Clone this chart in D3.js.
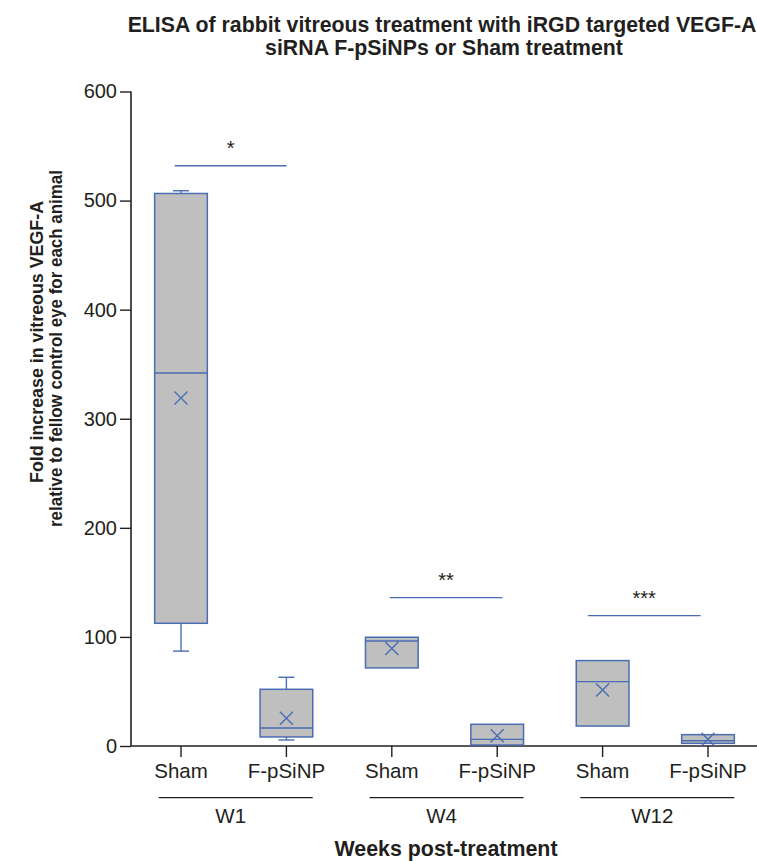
<!DOCTYPE html>
<html><head><meta charset="utf-8">
<script src="https://cdn.jsdelivr.net/npm/d3@7/dist/d3.min.js"></script>
<style>
html,body{margin:0;padding:0;background:#fff;}
svg text{font-family:"Liberation Sans",Arial,Helvetica,sans-serif;fill:#231f20;}
</style></head>
<body><svg id="chart" width="757" height="861"></svg>
<script>
// ---- data ----
const categories = ["Sham","F-pSiNP","Sham","F-pSiNP","Sham","F-pSiNP"];
const groups = ["W1","W4","W12"];
const whiskerMin = [87, 5.5, 71.6, 0.9, 18.3, 2.4];
const q1 =         [112.5, 8.3, 71.6, 0.9, 18.3, 2.4];
const median =     [342, 16.5, 96.3, 6.1, 59, 4.8];
const q3 =         [506.5, 52, 99.7, 19.9, 78.3, 10.4];
const whiskerMax = [509, 63, 99.7, 19.9, 78.3, 10.4];
const means =      [319, 25.4, 89.3, 9.5, 51.4, 6.1];
const yTicks = [0,100,200,300,400,500,600];
const sigLabels = ["*","**","***"];
const sigValues = [532, 136, 119.5];
const sigFrom = [-0.06, 1.98, 3.86];
const sigTo = [1.0, 3.05, 4.93];
const titleLines = ["ELISA of rabbit vitreous treatment with iRGD targeted VEGF-A","siRNA F-pSiNPs or Sham treatment"];
const yTitleLines = ["Fold increase in vitreous VEGF-A","relative to fellow control eye for each animal"];
const xTitle = "Weeks post-treatment";

// ---- layout ----
const svg = d3.select("#chart");
const blue = "#4a6db3", axisCol = "#231f20";
const y = d3.scaleLinear().domain([0,600]).range([746,91.5]);
const idx = d3.scaleLinear().domain([0,5]).range([181,708]);
const step = idx(1)-idx(0);
const boxW = step*0.5, capW = 16;

// title
svg.append("g").selectAll("text").data(titleLines).join("text")
  .attr("x",(d,i)=> i===0?442:444).attr("y",(d,i)=>32.3+i*22.7)
  .attr("text-anchor","middle").attr("font-size","21.3px").attr("font-weight","bold").text(d=>d);

// y axis
const yAxis = d3.axisLeft(y).tickValues(yTicks).tickSize(11).tickPadding(3);
const gy = svg.append("g").attr("transform","translate(131,0)").call(yAxis);
gy.select(".domain").attr("stroke",axisCol).attr("stroke-width",1.6).attr("d","M0,"+y(600)+"V"+y(0));
gy.selectAll(".tick line").attr("stroke",axisCol).attr("stroke-width",1.4);
gy.selectAll(".tick text").attr("font-size","20px").style("fill","#231f20");

// x axis
const gx = svg.append("g");
gx.append("line").attr("x1",131).attr("x2",757).attr("y1",y(0)).attr("y2",y(0)).attr("stroke",axisCol).attr("stroke-width",1.6);
gx.selectAll("line.tk").data(categories).join("line").attr("class","tk")
  .attr("x1",(d,i)=>idx(i)).attr("x2",(d,i)=>idx(i)).attr("y1",y(0)).attr("y2",y(0)+11)
  .attr("stroke",axisCol).attr("stroke-width",1.4);
gx.selectAll("text.cat").data(categories).join("text").attr("class","cat")
  .attr("x",(d,i)=>idx(i)).attr("y",778).attr("text-anchor","middle").attr("font-size","20.5px").text(d=>d);
// group lines & labels
gx.selectAll("line.grp").data(groups).join("line").attr("class","grp")
  .attr("x1",(d,i)=>idx(2*i+0.5)-77+2).attr("x2",(d,i)=>idx(2*i+0.5)+77+2)
  .attr("y1",797.7).attr("y2",797.7).attr("stroke",axisCol).attr("stroke-width",1.3);
gx.selectAll("text.grp").data(groups).join("text").attr("class","grp")
  .attr("x",(d,i)=>idx(2*i+0.5)-3).attr("y",822.7).attr("text-anchor","middle").attr("font-size","20.5px").text(d=>d);
svg.append("text").attr("x",446).attr("y",856).attr("text-anchor","middle")
  .attr("font-size","21.4px").attr("font-weight","bold").text(xTitle);

// y title
const yTitleLen = [282, 357], yTitleCenter = [342, 348.5];
svg.append("g").selectAll("text").data(yTitleLines).join("text")
  .attr("transform",(d,i)=>"translate("+(42.5+i*19.8)+","+yTitleCenter[i]+") rotate(-90)")
  .attr("text-anchor","middle").attr("font-size","18px").attr("font-weight","bold")
  .attr("textLength",(d,i)=>yTitleLen[i]).attr("lengthAdjust","spacingAndGlyphs").text(d=>d);

// boxes
const boxes = svg.append("g");
categories.forEach((c,i)=>{
  const cx = idx(i);
  const g = boxes.append("g");
  if (whiskerMax[i] > q3[i]) {
    g.append("line").attr("x1",cx).attr("x2",cx).attr("y1",y(q3[i])).attr("y2",y(whiskerMax[i])).attr("stroke",blue).attr("stroke-width",1.4);
    g.append("line").attr("x1",cx-capW/2).attr("x2",cx+capW/2).attr("y1",y(whiskerMax[i])).attr("y2",y(whiskerMax[i])).attr("stroke",blue).attr("stroke-width",1.4);
  }
  if (whiskerMin[i] < q1[i]) {
    g.append("line").attr("x1",cx).attr("x2",cx).attr("y1",y(q1[i])).attr("y2",y(whiskerMin[i])).attr("stroke",blue).attr("stroke-width",1.4);
    g.append("line").attr("x1",cx-capW/2).attr("x2",cx+capW/2).attr("y1",y(whiskerMin[i])).attr("y2",y(whiskerMin[i])).attr("stroke",blue).attr("stroke-width",1.4);
  }
  g.append("rect").attr("x",cx-boxW/2).attr("width",boxW)
    .attr("y",y(q3[i])).attr("height",y(q1[i])-y(q3[i]))
    .attr("fill","#bfbfbf").attr("stroke",blue).attr("stroke-width",1.5);
  g.append("line").attr("x1",cx-boxW/2).attr("x2",cx+boxW/2).attr("y1",y(median[i])).attr("y2",y(median[i])).attr("stroke",blue).attr("stroke-width",1.4);
  const my = y(means[i]), s = 6.5;
  g.append("path").attr("d",`M${cx-s},${my-s}L${cx+s},${my+s}M${cx-s},${my+s}L${cx+s},${my-s}`)
    .attr("stroke",blue).attr("stroke-width",1.4).attr("fill","none");
});

// significance
const sig = svg.append("g");
sigLabels.forEach((l,i)=>{
  const x1 = idx(sigFrom[i]), x2 = idx(sigTo[i]), yy = y(sigValues[i]);
  sig.append("line").attr("x1",x1).attr("x2",x2).attr("y1",yy).attr("y2",yy).attr("stroke",blue).attr("stroke-width",1.4);
  sig.append("text").attr("x",(x1+x2)/2).attr("y",yy-10.5).attr("text-anchor","middle").attr("font-size","20px").text(l);
});
</script></body></html>
